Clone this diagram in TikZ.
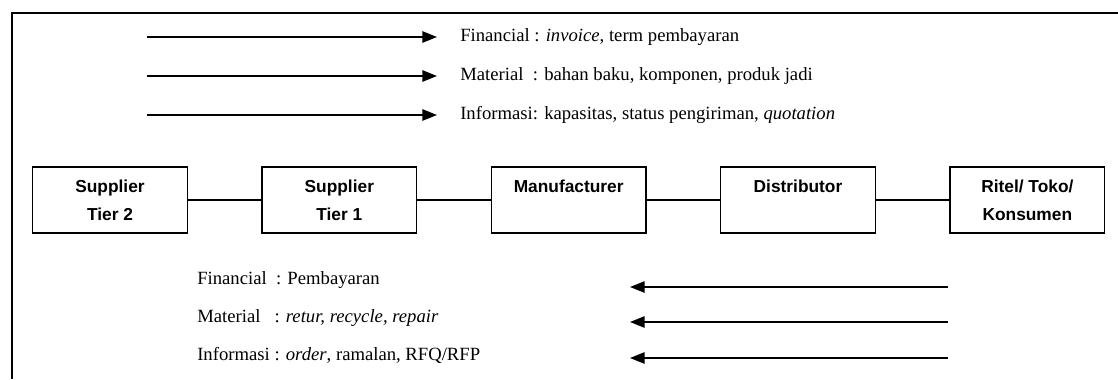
\documentclass[tikz,border=0pt]{standalone}
\usepackage{fontspec}
\setmainfont{Liberation Serif}
\newfontfamily\boxfont{Liberation Sans}
\usetikzlibrary{arrows.meta,positioning}

\begin{document}
\begin{tikzpicture}[
        x=0.75pt, y=-0.75pt,
        entity/.style={draw, line width=1.1pt, minimum width=116pt, minimum height=49.5pt, align=center, inner sep=2pt, font=\boxfont\bfseries\fontsize{13}{21}\selectfont},
        flow/.style={-{Triangle[length=11pt, width=8.5pt]}, line width=1.35pt},
        link/.style={line width=0.9pt},
        flowtext/.style={anchor=west, inner sep=0pt, font=\fontsize{14}{16}\selectfont},
        node distance=54.9pt
    ]

    \useasboundingbox (0,0) rectangle (1118,379);

    % frame
    \draw[line width=1.5pt] (1118,13) -- (12,13) -- (12,379);

    % forward flows
    \node[flowtext] (fwdfin) at (460,37) {Financial : \textit{invoice}, term pembayaran};
    \node[flowtext] (fwdmat) at (460,76) {Material\ \ : bahan baku, komponen, produk jadi};
    \node[flowtext] (fwdinf) at (460,115) {Informasi: kapasitas, status pengiriman, \textit{quotation}};

    \coordinate (fa1) at (147,37);  \coordinate (fb1) at (437,37);
    \coordinate (fa2) at (147,76);  \coordinate (fb2) at (437,76);
    \coordinate (fa3) at (147,115); \coordinate (fb3) at (437,115);
    \draw[flow] (fa1) -- (fb1);
    \draw[flow] (fa2) -- (fb2);
    \draw[flow] (fa3) -- (fb3);

    % chain
    \node[entity] (tier2) at (110,200) {Supplier\\Tier 2};
    \node[entity, right=of tier2] (tier1) {Supplier\\Tier 1};
    \node[entity, right=of tier1] (manuf) {Manufacturer\\\mbox{}};
    \node[entity, right=of manuf] (distr) {Distributor\\\mbox{}};
    \node[entity, right=of distr] (retail) {Ritel/ Toko/\\Konsumen};

    \draw[link] (tier2) -- (tier1);
    \draw[link] (tier1) -- (manuf);
    \draw[link] (manuf) -- (distr);
    \draw[link] (distr) -- (retail);

    % backward flows
    \node[flowtext] (bwdfin) at (197,280) {Financial\ \ : Pembayaran};
    \node[flowtext] (bwdmat) at (197,318) {Material\ \ \ : \textit{retur, recycle, repair}};
    \node[flowtext] (bwdinf) at (197,355) {Informasi : \textit{order}, ramalan, RFQ/RFP};

    \coordinate (ba1) at (948,287); \coordinate (bb1) at (630,287);
    \coordinate (ba2) at (948,322); \coordinate (bb2) at (630,322);
    \coordinate (ba3) at (948,358); \coordinate (bb3) at (630,358);
    \draw[flow] (ba1) -- (bb1);
    \draw[flow] (ba2) -- (bb2);
    \draw[flow] (ba3) -- (bb3);

\end{tikzpicture}
\end{document}
